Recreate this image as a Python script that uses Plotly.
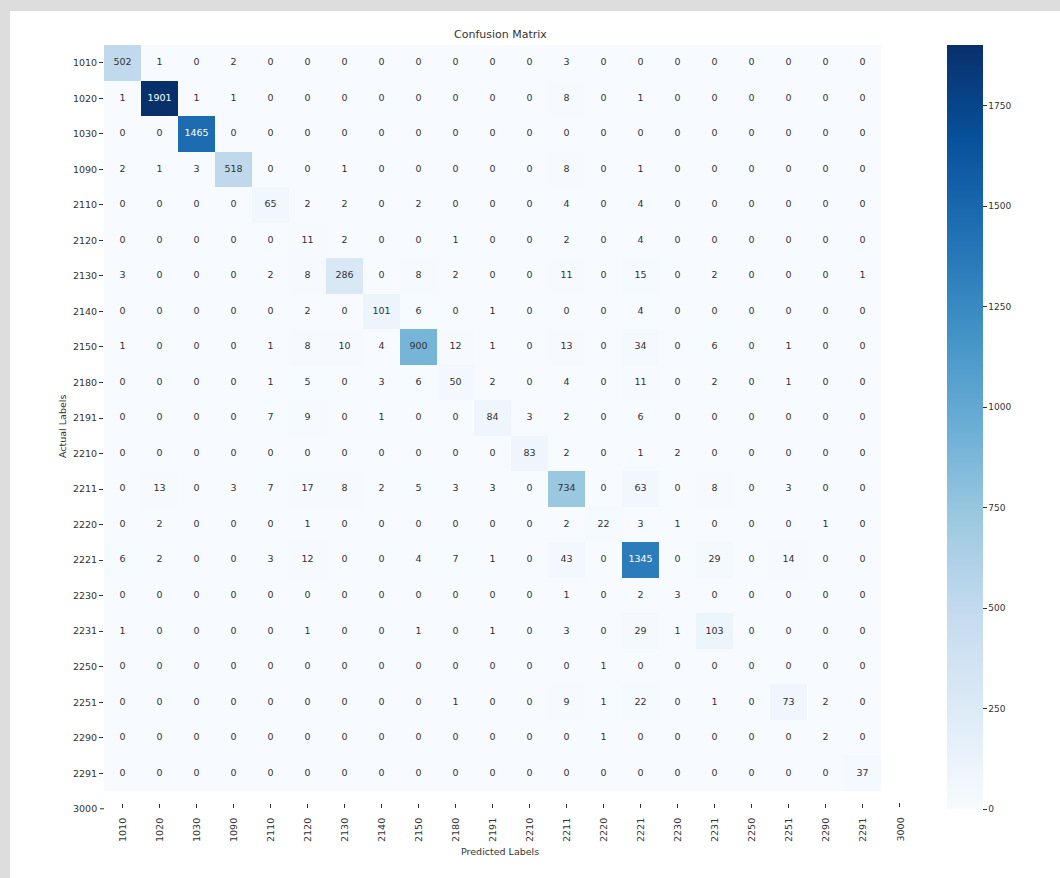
import plotly.graph_objects as go

# Class labels (22 tick labels; the matrix itself holds 21 classes)
labels = ["1010", "1020", "1030", "1090", "2110", "2120", "2130", "2140", "2150",
          "2180", "2191", "2210", "2211", "2220", "2221", "2230", "2231", "2250",
          "2251", "2290", "2291", "3000"]

# Rows = actual class, columns = predicted class
counts = [
    [502, 1, 0, 2, 0, 0, 0, 0, 0, 0, 0, 0, 3, 0, 0, 0, 0, 0, 0, 0, 0],
    [1, 1901, 1, 1, 0, 0, 0, 0, 0, 0, 0, 0, 8, 0, 1, 0, 0, 0, 0, 0, 0],
    [0, 0, 1465, 0, 0, 0, 0, 0, 0, 0, 0, 0, 0, 0, 0, 0, 0, 0, 0, 0, 0],
    [2, 1, 3, 518, 0, 0, 1, 0, 0, 0, 0, 0, 8, 0, 1, 0, 0, 0, 0, 0, 0],
    [0, 0, 0, 0, 65, 2, 2, 0, 2, 0, 0, 0, 4, 0, 4, 0, 0, 0, 0, 0, 0],
    [0, 0, 0, 0, 0, 11, 2, 0, 0, 1, 0, 0, 2, 0, 4, 0, 0, 0, 0, 0, 0],
    [3, 0, 0, 0, 2, 8, 286, 0, 8, 2, 0, 0, 11, 0, 15, 0, 2, 0, 0, 0, 1],
    [0, 0, 0, 0, 0, 2, 0, 101, 6, 0, 1, 0, 0, 0, 4, 0, 0, 0, 0, 0, 0],
    [1, 0, 0, 0, 1, 8, 10, 4, 900, 12, 1, 0, 13, 0, 34, 0, 6, 0, 1, 0, 0],
    [0, 0, 0, 0, 1, 5, 0, 3, 6, 50, 2, 0, 4, 0, 11, 0, 2, 0, 1, 0, 0],
    [0, 0, 0, 0, 7, 9, 0, 1, 0, 0, 84, 3, 2, 0, 6, 0, 0, 0, 0, 0, 0],
    [0, 0, 0, 0, 0, 0, 0, 0, 0, 0, 0, 83, 2, 0, 1, 2, 0, 0, 0, 0, 0],
    [0, 13, 0, 3, 7, 17, 8, 2, 5, 3, 3, 0, 734, 0, 63, 0, 8, 0, 3, 0, 0],
    [0, 2, 0, 0, 0, 1, 0, 0, 0, 0, 0, 0, 2, 22, 3, 1, 0, 0, 0, 1, 0],
    [6, 2, 0, 0, 3, 12, 0, 0, 4, 7, 1, 0, 43, 0, 1345, 0, 29, 0, 14, 0, 0],
    [0, 0, 0, 0, 0, 0, 0, 0, 0, 0, 0, 0, 1, 0, 2, 3, 0, 0, 0, 0, 0],
    [1, 0, 0, 0, 0, 1, 0, 0, 1, 0, 1, 0, 3, 0, 29, 1, 103, 0, 0, 0, 0],
    [0, 0, 0, 0, 0, 0, 0, 0, 0, 0, 0, 0, 0, 1, 0, 0, 0, 0, 0, 0, 0],
    [0, 0, 0, 0, 0, 0, 0, 0, 0, 1, 0, 0, 9, 1, 22, 0, 1, 0, 73, 2, 0],
    [0, 0, 0, 0, 0, 0, 0, 0, 0, 0, 0, 0, 0, 1, 0, 0, 0, 0, 0, 2, 0],
    [0, 0, 0, 0, 0, 0, 0, 0, 0, 0, 0, 0, 0, 0, 0, 0, 0, 0, 0, 0, 37],
]

colorbar_ticks = [0, 250, 500, 750, 1000, 1250, 1500, 1750]

# matplotlib "Blues"
blues = ["#f7fbff", "#deebf7", "#c6dbef", "#9ecae1", "#6baed6",
         "#4292c6", "#2171b5", "#08519c", "#08306b"]
colorscale = [[i / (len(blues) - 1), c] for i, c in enumerate(blues)]

W, H = 1060, 878
L, R, T, B = 104, 179, 45, 75
PW, PH = W - L - R, H - T - B
CELL_BOTTOM = 791          # pixel row where the last heatmap row ends
AXIS_Y = H - B             # pixel row of the x-axis tick baseline


def px_x(px):
    return (px - L) / PW


def px_y(py):
    return (AXIS_Y - py) / PH


n = len(counts)
zmax = max(max(r) for r in counts)
FONT = "DejaVu Sans"
TXT = "#333333"

fig = go.Figure()
fig.add_trace(go.Heatmap(
    z=counts, x=list(range(n)), y=list(range(n)),
    colorscale=colorscale, zmin=0, zmax=zmax, hoverinfo="skip",
    colorbar=dict(
        thickness=36, thicknessmode="pixels",
        len=764, lenmode="pixels",
        x=px_x(947), xanchor="left", xpad=0,
        y=1, yanchor="top", ypad=0,
        outlinewidth=0,
        tickvals=colorbar_ticks, ticks="outside", ticklen=4,
        tickcolor=TXT, tickfont=dict(family=FONT, size=9, color=TXT),
    ),
))

# Cell annotations: white text on dark cells, dark text elsewhere
xs, ys, ts, cs = [], [], [], []
for i, row in enumerate(counts):
    for j, v in enumerate(row):
        xs.append(j)
        ys.append(i)
        ts.append(str(v))
        cs.append("white" if v > 0.55 * zmax else TXT)
fig.add_trace(go.Scatter(
    x=xs, y=ys, text=ts, mode="text", hoverinfo="skip", showlegend=False,
    textfont=dict(family=FONT, size=9.5, color=cs),
))

axis_common = dict(
    tickmode="array", tickvals=list(range(n)), ticktext=labels[:n],
    ticks="outside", ticklen=4, tickcolor=TXT, tickwidth=1,
    tickfont=dict(family=FONT, size=9.5, color=TXT),
    showgrid=False, zeroline=False, showline=False,
)
fig.update_xaxes(range=[-0.5, n - 0.5], tickangle=-90, anchor="free", position=0,
                 ticklabelstandoff=6, **axis_common)
fig.update_yaxes(range=[n - 0.5, -0.5], domain=[px_y(CELL_BOTTOM), 1], **axis_common)

# The extra "3000" label sits one step past the last cell on each axis
row_step = (CELL_BOTTOM - T) / n
col_step = PW / n
y3000 = CELL_BOTTOM + row_step / 2
x3000 = L + PW + col_step / 2
fig.add_annotation(x=px_x(99), y=px_y(y3000), xref="paper", yref="paper", text=labels[n],
                   showarrow=False, xanchor="right", yanchor="middle",
                   font=dict(family=FONT, size=9.5, color=TXT))
fig.add_shape(type="line", xref="paper", yref="paper", x0=px_x(100), x1=px_x(104),
              y0=px_y(y3000), y1=px_y(y3000), line=dict(color=TXT, width=1))
fig.add_annotation(x=px_x(x3000), y=px_y(AXIS_Y + 12), xref="paper", yref="paper",
                   text=labels[n], showarrow=False, xanchor="center", yanchor="top",
                   textangle=-90, font=dict(family=FONT, size=9.5, color=TXT))
fig.add_shape(type="line", xref="paper", yref="paper", x0=px_x(x3000), x1=px_x(x3000),
              y0=px_y(AXIS_Y), y1=px_y(AXIS_Y + 4), line=dict(color=TXT, width=1))

# Titles
fig.add_annotation(x=px_x(500), y=px_y(35), xref="paper", yref="paper",
                   text="Confusion Matrix", showarrow=False,
                   xanchor="center", yanchor="middle",
                   font=dict(family=FONT, size=11, color=TXT))
fig.add_annotation(x=px_x(500), y=px_y(851), xref="paper", yref="paper",
                   text="Predicted Labels", showarrow=False,
                   xanchor="center", yanchor="middle",
                   font=dict(family=FONT, size=9.5, color=TXT))
fig.add_annotation(x=px_x(62), y=px_y(427), xref="paper", yref="paper",
                   text="Actual Labels", showarrow=False, textangle=-90,
                   xanchor="center", yanchor="middle",
                   font=dict(family=FONT, size=9.5, color=TXT))

# Light frame along the top and left edges
frame = "#dddddd"
fig.add_shape(type="rect", xref="paper", yref="paper", layer="below",
              x0=px_x(0), x1=px_x(W), y0=px_y(11), y1=px_y(0),
              fillcolor=frame, line=dict(width=0))
fig.add_shape(type="rect", xref="paper", yref="paper", layer="below",
              x0=px_x(0), x1=px_x(10), y0=px_y(H), y1=px_y(0),
              fillcolor=frame, line=dict(width=0))

fig.update_layout(
    width=W, height=H, margin=dict(l=L, r=R, t=T, b=B, autoexpand=False),
    paper_bgcolor="white", plot_bgcolor="white", showlegend=False,
)

fig.write_html("out.html")
